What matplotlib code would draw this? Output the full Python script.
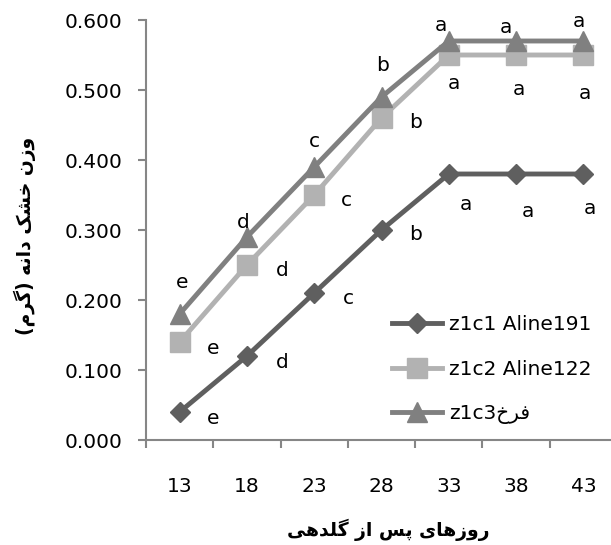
import numpy as np
import matplotlib
matplotlib.use("Agg")
import matplotlib.pyplot as plt

# data
days = ["13", "18", "23", "28", "33", "38", "43"]
aline191 = [0.04, 0.12, 0.21, 0.30, 0.38, 0.38, 0.38]
aline122 = [0.14, 0.25, 0.35, 0.46, 0.55, 0.55, 0.55]
farokh = [0.18, 0.29, 0.39, 0.49, 0.57, 0.57, 0.57]
letters191 = ["e", "d", "c", "b", "a", "a", "a"]
letters122 = ["e", "d", "c", "b", "a", "a", "a"]
letters_farokh = ["e", "d", "c", "b", "a", "a", "a"]

# persian strings in visual order (presentation forms, no shaping engine)
xlabel = "\uFBFD\uFEEB\uFEAA\uFEE0\uFB94 \uFEAF\uFE8D \uFEB2\uFB58 \uFBFC\uFE8E\uFEEB\uFEAF\uFEED\uFEAD"
ylabel = "(\uFEE1\uFEAE\uFB94) \uFEEA\uFEE7\uFE8D\uFEA9 \uFB8F\uFEB8\uFEA7 \uFEE5\uFEAF\uFEED"
names = ["z1c1 Aline191", "z1c2 Aline122", "z1c3\uFEA5\uFEAE\uFED3"]

plt.rcParams['font.family'] = ['DejaVu Sans']
FS = 14.5

W, H = 611, 545
fig = plt.figure(figsize=(W / 100, H / 100), dpi=100)
ax = fig.add_axes([146 / W, 105 / H, (617 - 146) / W, 420 / H])

x = np.arange(len(days))
c1, c2, c3 = "#5f5f5f", "#b2b2b2", "#808080"
ax.plot(x, aline191, color=c1, lw=3.5, marker="D", ms=10, label=names[0], zorder=3)
ax.plot(x, aline122, color=c2, lw=3.5, marker="s", ms=14, label=names[1], zorder=3)
ax.plot(x, farokh, color=c3, lw=3.5, marker="^", ms=14, label=names[2], zorder=3)

# label offsets in pixels (dx, dy down)
off191 = [(33, 7), (35, 6), (34, 6), (34, 5), (17, 30), (12, 37), (7, 34)]
off122 = [(33, 6), (35, 5), (32, 5), (34, 4), (5, 28), (3, 34), (2, 38)]
off_far = [(2, -32), (-4, -15), (0, -26), (1, -32), (-8, -16), (-10, -14), (-4, -20)]

for vals, labs, offs in [(aline191, letters191, off191),
                         (aline122, letters122, off122),
                         (farokh, letters_farokh, off_far)]:
    for xi, v, lab, (dx, dy) in zip(x, vals, labs, offs):
        ax.annotate(lab, (xi, v), xytext=(dx * 0.72, -dy * 0.72), textcoords="offset points",
                    ha="center", va="center", fontsize=FS, color="black")

ax.set_xlim(-0.5, 6.5)
ax.set_ylim(0, 0.6)
ax.set_yticks(np.arange(0, 0.61, 0.1))
ax.set_yticklabels(["%.3f" % v for v in np.arange(0, 0.61, 0.1)], fontsize=FS)
ax.set_xticks(x)
ax.set_xticklabels(days, fontsize=FS)
ax.set_xticks(np.arange(-0.5, 7, 1), minor=True)
ax.tick_params(axis="x", which="major", length=0, pad=27)
ax.tick_params(axis="x", which="minor", length=6, width=1.5, color="#868686")
ax.tick_params(axis="y", length=6, width=1.5, color="#868686", pad=11)

for s in ["top", "right"]:
    ax.spines[s].set_visible(False)
for s in ["left", "bottom"]:
    ax.spines[s].set_color("#868686")
    ax.spines[s].set_linewidth(1.5)

ax.legend(loc="upper left", bbox_to_anchor=(392 / W, 1 - 315 / H), bbox_transform=fig.transFigure,
          frameon=False, fontsize=FS, borderpad=0, borderaxespad=0, handlelength=2.5,
          handletextpad=0.35, labelspacing=1.27)

fig.text(25 / W, 1 - 236 / H, ylabel, rotation=90, ha="center", va="center",
         fontsize=13.5, fontweight="bold")
fig.text(388 / W, 1 - 530 / H, xlabel, ha="center", va="center",
         fontsize=13.5, fontweight="bold")

fig.savefig("out.png", dpi=100)
